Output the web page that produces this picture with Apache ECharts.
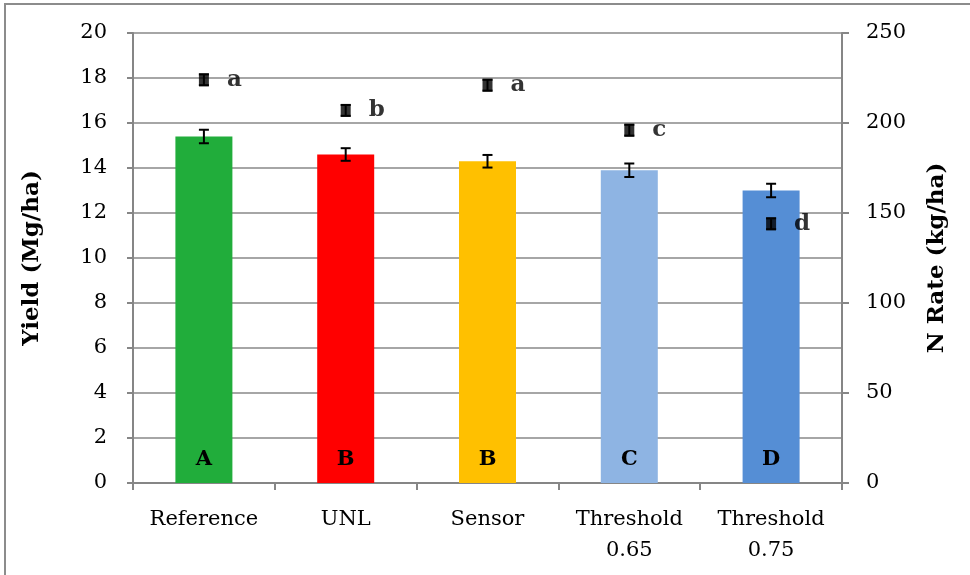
<!DOCTYPE html>
<html>
<head>
<meta charset="utf-8">
<script src="https://cdn.jsdelivr.net/npm/echarts@6/dist/echarts.min.js"></script>
<style>
html,body{margin:0;padding:0;background:#fff;}
#main{width:970px;height:575px;}
</style>
</head>
<body>
<div id="main"></div>
<script>
// data
var categories = ['Reference', 'UNL', 'Sensor', 'Threshold\n0.65', 'Threshold\n0.75'];
var yieldVals = [15.4, 14.6, 14.3, 13.9, 13.0];
var yieldErr = [0.3, 0.28, 0.28, 0.3, 0.3];
var yieldLetters = ['A', 'B', 'B', 'C', 'D'];
var barColors = ['#21AD3B', '#FF0000', '#FFC000', '#8EB4E3', '#558ED5'];
var nRate = [224, 207, 221, 196, 144];
var nErr = [3, 3, 3, 3, 3];
var nLetters = ['a', 'b', 'a', 'c', 'd'];

var font = 'DejaVu Serif';

var myChart = echarts.init(document.getElementById('main'));

// 误差线
function errBar(axisIdx, vals, errs) {
	return {
		type: 'custom',
		yAxisIndex: axisIdx,
		z: 10,
		data: vals.map(function (v, i) { return [i, v - errs[i], v + errs[i]]; }),
		renderItem: function (params, api) {
			var lo = api.coord([api.value(0), api.value(1)]);
			var hi = api.coord([api.value(0), api.value(2)]);
			var w = 5;
			var st = { stroke: '#000', lineWidth: 2 };
			return {
				type: 'group',
				children: [
					{ type: 'line', shape: { x1: lo[0], y1: lo[1], x2: hi[0], y2: hi[1] }, style: st },
					{ type: 'line', shape: { x1: lo[0] - w, y1: lo[1], x2: lo[0] + w, y2: lo[1] }, style: st },
					{ type: 'line', shape: { x1: hi[0] - w, y1: hi[1], x2: hi[0] + w, y2: hi[1] }, style: st }
				]
			};
		}
	};
}

var option = {
	animation: false,
	backgroundColor: '#fff',
	textStyle: { fontFamily: font },
	graphic: [{
		type: 'rect',
		shape: { x: 5, y: 4, width: 975, height: 590 },
		style: { fill: 'none', stroke: '#8c8c8c', lineWidth: 2 },
		z: -1
	}],
	grid: { left: 133, right: 128, top: 33, bottom: 92 },
	xAxis: {
		type: 'category',
		data: categories,
		axisLine: { lineStyle: { color: '#868686', width: 2 } },
		axisTick: { show: true, length: 7, lineStyle: { color: '#868686', width: 2 } },
		axisLabel: { color: '#000', fontSize: 21, fontFamily: font, margin: 21, lineHeight: 31 }
	},
	yAxis: [{
		type: 'value',
		min: 0, max: 20, interval: 2,
		name: 'Yield (Mg/ha)',
		nameLocation: 'middle',
		nameGap: 89,
		nameTextStyle: { color: '#000', fontSize: 23, fontWeight: 'bold', fontFamily: font },
		axisLine: { show: true, lineStyle: { color: '#868686', width: 2 } },
		axisTick: { show: true, length: 6, lineStyle: { color: '#868686', width: 2 } },
		axisLabel: { color: '#000', fontSize: 21, fontFamily: font, margin: 26 },
		splitLine: { lineStyle: { color: '#a6a6a6', width: 2 } }
	}, {
		type: 'value',
		min: 0, max: 250, interval: 50,
		name: 'N Rate (kg/ha)',
		nameLocation: 'middle',
		nameGap: 84,
		nameRotate: 90,
		nameTextStyle: { color: '#000', fontSize: 23, fontWeight: 'bold', fontFamily: font },
		axisLine: { show: true, lineStyle: { color: '#868686', width: 2 } },
		axisTick: { show: true, length: 7, lineStyle: { color: '#868686', width: 2 } },
		axisLabel: { color: '#000', fontSize: 21, fontFamily: font, margin: 24 },
		splitLine: { show: false }
	}],
	series: [{
		type: 'bar',
		barWidth: 57,
		data: yieldVals.map(function (v, i) {
			return { value: v, itemStyle: { color: barColors[i] } };
		}),
		label: {
			show: true,
			position: 'insideBottom',
			distance: 13,
			color: '#000',
			fontSize: 21,
			fontWeight: 'bold',
			fontFamily: font,
			formatter: function (p) { return yieldLetters[p.dataIndex]; }
		}
	},
	errBar(0, yieldVals, yieldErr),
	{
		type: 'scatter',
		yAxisIndex: 1,
		symbol: 'rect',
		symbolSize: [10, 13],
		z: 11,
		itemStyle: { color: '#000' },
		data: nRate,
		label: {
			show: true,
			position: 'right',
			distance: 18,
			color: '#000',
			textBorderWidth: 0,
			fontSize: 23,
			fontWeight: 'bold',
			fontFamily: font,
			formatter: function (p) { return nLetters[p.dataIndex]; }
		}
	},
	errBar(1, nRate, nErr)]
};

myChart.setOption(option);
</script>
</body>
</html>
